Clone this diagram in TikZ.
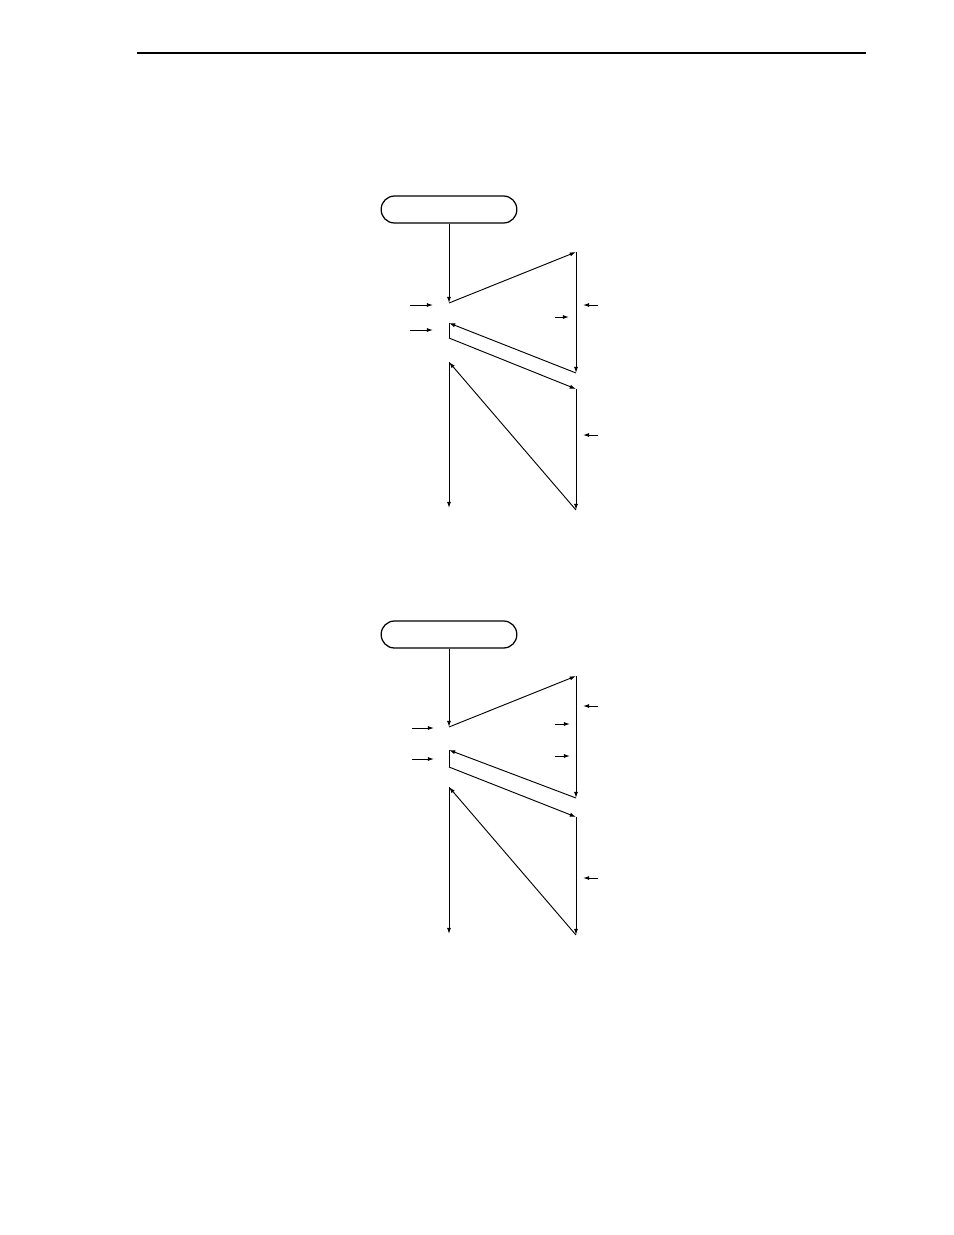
\documentclass[tikz,border=0pt]{standalone}
\usetikzlibrary{arrows.meta}
\begin{document}
\begin{tikzpicture}[x=0.6415pt, y=-0.6415pt, line width=0.6pt, >={Latex[length=4pt,width=2.6pt]},
  term node/.style={draw, rounded corners=8.5pt, minimum width=87pt, minimum height=17.3pt, inner sep=0pt, line width=0.8pt}]
\useasboundingbox (0,0) rectangle (954,1235);
\draw[line width=0.9pt] (137,53) coordinate (hl) -- (866,53) coordinate (hr);
%first chart
\node[term node] (t1) at (449,209.5) {};
\coordinate (a1) at (449,303);
\coordinate (b1) at (576,252);
\coordinate (c1) at (576,373);
\coordinate (d1) at (449,323);
\coordinate (e1) at (449,338);
\coordinate (f1) at (576,389);
\coordinate (g1) at (576,510);
\coordinate (h1) at (449,362);
\coordinate (i1) at (449,508);
\begin{scope}[every edge/.style={draw,->}]
\draw (t1.south) edge (a1);
\draw (a1) edge (b1);
\draw (b1) edge (c1);
\draw (c1) edge (d1);
\draw (d1) -- (e1);
\draw (e1) edge (f1);
\draw (f1) edge (g1);
\draw (g1) edge (h1);
\draw (h1) edge (i1);
\end{scope}
\coordinate (p1) at (410,305); \coordinate (q1) at (433,305);
\coordinate (p2) at (410,330); \coordinate (q2) at (433,330);
\coordinate (p3) at (598,305); \coordinate (q3) at (583,305);
\coordinate (p4) at (555,317); \coordinate (q4) at (569,317);
\coordinate (p5) at (598,435); \coordinate (q5) at (583,435);
\begin{scope}[every edge/.style={draw,->}]
\draw (p1) edge (q1);
\draw (p2) edge (q2);
\draw (p3) edge (q3);
\draw (p4) edge (q4);
\draw (p5) edge (q5);
\end{scope}
%second chart
\node[term node] (t2) at (449,634.5) {};
\coordinate (a2) at (449,727);
\coordinate (b2) at (576,676);
\coordinate (c2) at (576,798);
\coordinate (d2) at (449,750);
\coordinate (e2) at (449,767);
\coordinate (f2) at (576,817);
\coordinate (g2) at (576,935);
\coordinate (h2) at (449,787);
\coordinate (i2) at (449,934);
\begin{scope}[every edge/.style={draw,->}]
\draw (t2.south) edge (a2);
\draw (a2) edge (b2);
\draw (b2) edge (c2);
\draw (c2) edge (d2);
\draw (d2) -- (e2);
\draw (e2) edge (f2);
\draw (f2) edge (g2);
\draw (g2) edge (h2);
\draw (h2) edge (i2);
\end{scope}
\coordinate (m1) at (412,728); \coordinate (n1) at (434,728);
\coordinate (m2) at (412,759); \coordinate (n2) at (434,759);
\coordinate (m3) at (598,706); \coordinate (n3) at (583,706);
\coordinate (m4) at (555,724); \coordinate (n4) at (570,724);
\coordinate (m5) at (555,756); \coordinate (n5) at (570,756);
\coordinate (m6) at (598,878); \coordinate (n6) at (583,878);
\begin{scope}[every edge/.style={draw,->}]
\draw (m1) edge (n1);
\draw (m2) edge (n2);
\draw (m3) edge (n3);
\draw (m4) edge (n4);
\draw (m5) edge (n5);
\draw (m6) edge (n6);
\end{scope}
\end{tikzpicture}
\end{document}
